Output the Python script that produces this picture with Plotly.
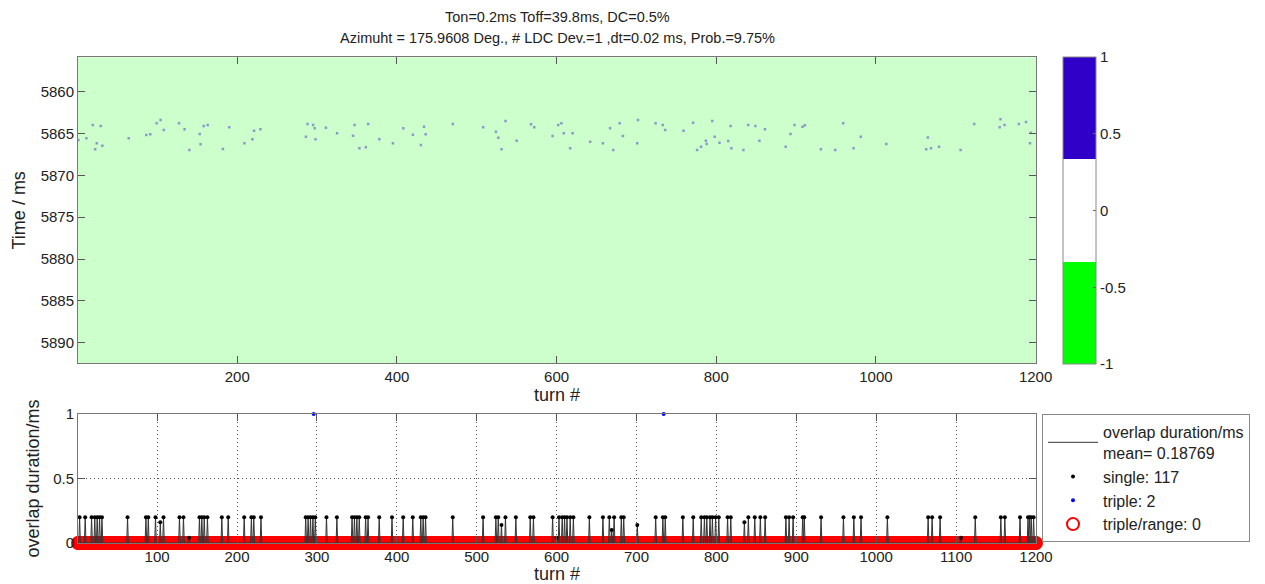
import plotly.graph_objects as go

# turn axis
TURNS = list(range(1, 1201))

# top panel: overlap hits (turn, time in ms)
hit_turns = [1, 11, 19, 22, 24, 29, 31, 64, 86, 91, 99, 104, 108, 127, 134, 140, 153, 154, 158, 163,
             182, 190, 209, 219, 221, 229, 286, 288, 295, 297, 298, 311, 325, 345, 347, 353, 361, 364,
             378, 395, 408, 420, 430, 434, 436, 470, 508, 524, 527, 536, 531, 550, 568, 572, 595, 602,
             606, 609, 620, 617, 642, 658, 667, 671, 679, 683, 701, 702, 724, 733, 736, 759, 771, 776,
             781, 787, 788, 795, 798, 804, 815, 818, 819, 834, 840, 849, 854, 861, 887, 893, 898, 908,
             911, 931, 949, 959, 972, 981, 1013, 1065, 1063, 1069, 1079, 1106, 1123, 1156, 1155, 1161,
             1179, 1188, 1194, 1193]
hit_times = [5865.78, 5865.57, 5863.98, 5866.89, 5866.17, 5864.10, 5866.45, 5865.57, 5865.18, 5865.10,
             5863.78, 5863.39, 5864.58, 5863.78, 5864.50, 5866.97, 5865.06, 5866.29, 5864.10, 5863.98,
             5866.85, 5864.26, 5866.17, 5865.69, 5864.66, 5864.50, 5865.38, 5863.86, 5863.98, 5864.38,
             5865.69, 5864.31, 5864.98, 5865.26, 5863.98, 5866.77, 5866.65, 5863.86, 5865.69, 5866.17,
             5864.38, 5865.14, 5866.37, 5864.19, 5865.10, 5863.86, 5864.26, 5864.78, 5865.50, 5863.51,
             5866.89, 5865.86, 5863.90, 5864.26, 5865.30, 5863.98, 5863.78, 5864.98, 5864.98, 5866.77,
             5865.98, 5866.17, 5864.38, 5866.97, 5863.78, 5865.30, 5866.17, 5863.39, 5863.78, 5863.98,
             5864.58, 5864.66, 5863.71, 5866.97, 5866.57, 5865.86, 5866.25, 5863.51, 5865.38, 5866.09,
             5865.90, 5864.10, 5866.77, 5866.97, 5863.98, 5864.10, 5865.86, 5864.50, 5866.57, 5865.06,
             5863.98, 5864.19, 5864.02, 5866.89, 5866.97, 5863.78, 5866.77, 5865.38, 5866.25, 5865.46,
             5866.89, 5866.77, 5866.57, 5866.97, 5863.86, 5863.30, 5864.26, 5863.98, 5863.86, 5863.62,
             5864.90, 5866.17]
hit_level = [1] * len(hit_turns)

# bottom panel: single overlaps (turn, duration in ms)
single_turns = [3, 10, 18, 22, 25, 28, 31, 63, 86, 89, 98, 104, 108, 128, 133, 140, 153, 156, 159, 163,
                181, 189, 209, 218, 221, 230, 286, 289, 292, 295, 298,
                312, 325, 344, 347, 350, 353, 361, 364, 378, 394, 408, 420, 430, 433, 436, 470, 508, 524,
                527, 531, 536, 549, 567, 571, 595,
                600, 603, 607, 610, 613, 617, 621, 641, 658, 666, 669, 672, 681, 684, 701, 724, 733, 736,
                758, 771, 781, 785, 788, 792, 795, 799, 803, 814, 818, 835, 840, 848, 855, 861, 887, 891, 896,
                908, 910, 931, 959, 972, 981, 1014, 1065, 1070, 1080, 1106, 1124, 1156, 1161, 1180, 1190,
                1192, 1194, 1197]
single_dur = [0.2] * len(single_turns)
for t, v in [(104, 0.16), (140, 0.04), (531, 0.14), (600, 0.04), (669, 0.1), (701, 0.14),
             (835, 0.16), (1106, 0.04)]:
    single_dur[single_turns.index(t)] = v

triple_turns = [296, 734]
triple_dur = [1, 1]

range_zero = [0] * len(TURNS)

# overlap duration per turn
duration = [0.0] * len(TURNS)
for t, v in zip(single_turns, single_dur):
    duration[t - 1] = v

FONT = "Liberation Sans, Arial, sans-serif"
OFF = 8  # page body margin
W, H = 1265 - OFF, 584 - OFF


def px(x):
    return (x - OFF) / W


def py(y):
    return (H - (y - OFF)) / H


xdom = [px(78), px(1036)]

fig = go.Figure()

fig.add_trace(go.Scatter(
    x=hit_turns, y=hit_times, mode="markers", showlegend=False,
    marker=dict(symbol="square", size=2.5, color=hit_level, cmin=-1, cmax=1, opacity=0.4,
                colorscale=[[0, "#00ff00"], [1 / 3, "#00ff00"], [1 / 3, "#ffffff"], [2 / 3, "#ffffff"],
                            [2 / 3, "#3000c8"], [1, "#3000c8"]],
                showscale=True,
                colorbar=dict(x=px(1063), xanchor="left", y=py(57), yanchor="top",
                              len=307 / H, thickness=33, xpad=0, ypad=0,
                              outlinecolor="#888", outlinewidth=1,
                              tickvals=[-1, -0.5, 0, 0.5, 1], ticktext=["-1", "-0.5", "0", "0.5", "1"],
                              ticks="inside", ticklen=3, tickcolor="#666",
                              tickfont=dict(size=15, color="#222", family=FONT))),
    xaxis="x", yaxis="y",
))

fig.add_trace(go.Scatter(
    x=TURNS, y=range_zero, mode="markers", name="triple/range: 0", legendrank=4,
    marker=dict(symbol="circle-open", size=12, color="red", line=dict(width=2, color="red")),
    cliponaxis=False, xaxis="x2", yaxis="y2",
))
fig.add_trace(go.Scatter(
    x=TURNS, y=duration, mode="lines", name="overlap duration/ms<br>mean= 0.18769", legendrank=1,
    line=dict(color="#333", width=1), xaxis="x2", yaxis="y2",
))
fig.add_trace(go.Scatter(
    x=single_turns, y=single_dur, mode="markers", name="single: 117", legendrank=2,
    marker=dict(size=4, color="black"), xaxis="x2", yaxis="y2",
))
fig.add_trace(go.Scatter(
    x=triple_turns, y=triple_dur, mode="markers", name="triple: 2", legendrank=3,
    marker=dict(size=4, color="blue"), cliponaxis=False, xaxis="x2", yaxis="y2",
))

axis_style = dict(showline=True, linecolor="#777", linewidth=1, mirror="allticks", ticks="inside",
                  ticklen=7, tickcolor="#555", zeroline=False,
                  tickfont=dict(size=15, color="#222", family=FONT))
grid_style = dict(showgrid=True, gridcolor="#555", griddash="1px,3px", gridwidth=1)

fig.update_layout(
    width=W, height=H,
    margin=dict(l=0, r=0, t=0, b=0, autoexpand=False),
    paper_bgcolor="white", plot_bgcolor="white",
    font=dict(family=FONT, size=15, color="#222"),
    xaxis=dict(domain=xdom, anchor="y", range=[0.5, 1200.5], tickvals=[200, 400, 600, 800, 1000, 1200],
               showgrid=False, title=dict(text="turn #", standoff=3), **axis_style),
    yaxis=dict(domain=[py(363.3), py(57.3)], anchor="x", range=[5892.46, 5855.89],
               tickvals=[5860, 5865, 5870, 5875, 5880, 5885, 5890], showgrid=False,
               title=dict(text="Time / ms", standoff=10), **axis_style),
    xaxis2=dict(domain=xdom, anchor="y2", range=[1, 1200], tickvals=list(range(100, 1201, 100)),
                title=dict(text="turn #", standoff=4), **grid_style, **axis_style),
    yaxis2=dict(domain=[py(543), py(414)], anchor="x2", range=[0, 1],
                tickvals=[0, 0.5, 1], ticktext=["0", "0.5", "1"],
                title=dict(text="overlap duration/ms", standoff=8), **grid_style, **axis_style),
    legend=dict(x=px(1042), xanchor="left", y=py(414), yanchor="top",
                bordercolor="#888", borderwidth=1, bgcolor="white", itemwidth=50,
                font=dict(size=16, color="#222", family=FONT), tracegroupgap=0),
    shapes=[dict(type="rect", xref="x domain", yref="y domain", x0=0, x1=1, y0=0, y1=1,
                 fillcolor="#ccffcc", line=dict(width=0), layer="below")],
    annotations=[
        dict(text="Ton=0.2ms Toff=39.8ms, DC=0.5%", x=px(557), y=py(17), xref="paper", yref="paper",
             showarrow=False, xanchor="center", yanchor="middle", font=dict(size=14.5, color="#222")),
        dict(text="Azimuht = 175.9608 Deg., # LDC Dev.=1 ,dt=0.02 ms, Prob.=9.75%", x=px(557),
             y=py(38), xref="paper", yref="paper", showarrow=False, xanchor="center",
             yanchor="middle", font=dict(size=14.5, color="#222")),
    ],
)

fig.write_html("out.html")
